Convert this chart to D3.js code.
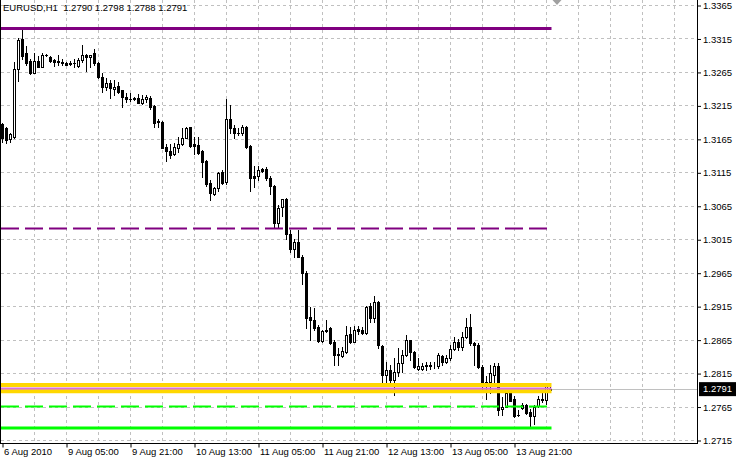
<!DOCTYPE html>
<html><head><meta charset="utf-8">
<script src="https://cdn.jsdelivr.net/npm/d3@7"></script>
<style>
html,body{margin:0;padding:0;background:#fff;}
svg{display:block;}
text{font-family:"Liberation Sans",Arial,sans-serif;font-size:9.5px;fill:#000;}
</style>
</head><body>
<svg id="chart" width="736" height="462"></svg>
<script>
const symbol = "EURUSD,H1";
const open = [1.3187,1.3181,1.3165,1.3168,1.3269,1.3314,1.3293,1.3282,1.3264,1.3282,
1.3273,1.3291,1.3288,1.3283,1.3280,1.3280,1.3279,1.3278,1.3278,1.3274,
1.3283,1.3291,1.3287,1.3293,1.3279,1.3258,1.3242,1.3249,1.3239,1.3244,
1.3238,1.3227,1.3225,1.3226,1.3226,1.3218,1.3225,1.3226,1.3214,1.3192,
1.3190,1.3153,1.3147,1.3142,1.3152,1.3157,1.3167,1.3182,1.3157,1.3156,
1.3147,1.3132,1.3099,1.3083,1.3091,1.3116,1.3100,1.3194,1.3181,1.3174,
1.3174,1.3183,1.3154,1.3110,1.3110,1.3120,1.3120,1.3107,1.3094,1.3040,
1.3063,1.3075,1.3023,1.3000,1.3011,1.2989,1.2965,1.2899,1.2895,1.2884,
1.2863,1.2880,1.2882,1.2862,1.2843,1.2840,1.2847,1.2873,1.2862,1.2881,
1.2879,1.2875,1.2915,1.2897,1.2921,1.2856,1.2812,1.2820,1.2804,1.2817,
1.2830,1.2842,1.2864,1.2846,1.2821,1.2821,1.2825,1.2827,1.2825,1.2826,
1.2840,1.2832,1.2837,1.2851,1.2862,1.2854,1.2869,1.2884,1.2860,1.2857,
1.2824,1.2799,1.2801,1.2812,1.2825,1.2761,1.2765,1.2785,1.2777,1.2752,
1.2763,1.2767,1.2757,1.2751,1.2766,1.2777,1.2775,1.2790];
const high = [1.3189,1.3183,1.3174,1.3280,1.3315,1.3328,1.3303,1.3284,1.3293,1.3289,
1.3293,1.3292,1.3289,1.3284,1.3290,1.3284,1.3280,1.3282,1.3284,1.3286,
1.3305,1.3292,1.3291,1.3299,1.3280,1.3264,1.3256,1.3253,1.3253,1.3250,
1.3238,1.3233,1.3233,1.3227,1.3232,1.3230,1.3230,1.3229,1.3216,1.3194,
1.3191,1.3158,1.3158,1.3159,1.3168,1.3181,1.3183,1.3183,1.3168,1.3168,
1.3149,1.3133,1.3103,1.3093,1.3116,1.3118,1.3224,1.3216,1.3186,1.3181,
1.3186,1.3184,1.3156,1.3124,1.3124,1.3122,1.3123,1.3109,1.3096,1.3066,
1.3075,1.3076,1.3029,1.3016,1.3029,1.2991,1.2967,1.2914,1.2912,1.2887,
1.2879,1.2894,1.2884,1.2864,1.2852,1.2854,1.2885,1.2884,1.2885,1.2885,
1.2884,1.2915,1.2920,1.2930,1.2922,1.2857,1.2832,1.2827,1.2837,1.2852,
1.2850,1.2872,1.2865,1.2848,1.2838,1.2830,1.2832,1.2832,1.2832,1.2845,
1.2842,1.2842,1.2857,1.2869,1.2866,1.2876,1.2897,1.2904,1.2862,1.2860,
1.2827,1.2810,1.2827,1.2830,1.2830,1.2780,1.2787,1.2787,1.2781,1.2760,
1.2770,1.2769,1.2762,1.2767,1.2781,1.2785,1.2796,1.2798];
const low = [1.3161,1.3159,1.3160,1.3166,1.3252,1.3284,1.3275,1.3262,1.3263,1.3272,
1.3272,1.3289,1.3280,1.3274,1.3275,1.3276,1.3275,1.3275,1.3273,1.3273,
1.3280,1.3267,1.3273,1.3275,1.3256,1.3235,1.3238,1.3226,1.3230,1.3233,
1.3213,1.3220,1.3222,1.3223,1.3218,1.3217,1.3220,1.3209,1.3183,1.3182,
1.3151,1.3132,1.3137,1.3141,1.3146,1.3156,1.3166,1.3153,1.3143,1.3143,
1.3108,1.3094,1.3073,1.3081,1.3087,1.3098,1.3098,1.3173,1.3167,1.3171,
1.3171,1.3151,1.3087,1.3093,1.3103,1.3116,1.3103,1.3083,1.3032,1.3034,
1.3049,1.3016,1.2996,1.2988,1.2988,1.2948,1.2883,1.2864,1.2879,1.2862,
1.2862,1.2877,1.2858,1.2827,1.2827,1.2839,1.2845,1.2860,1.2861,1.2874,
1.2874,1.2874,1.2891,1.2891,1.2852,1.2800,1.2801,1.2802,1.2782,1.2810,
1.2817,1.2841,1.2835,1.2822,1.2820,1.2820,1.2820,1.2821,1.2822,1.2823,
1.2827,1.2830,1.2835,1.2850,1.2850,1.2850,1.2867,1.2857,1.2827,1.2822,
1.2790,1.2776,1.2785,1.2795,1.2752,1.2752,1.2764,1.2773,1.2749,1.2751,
1.2761,1.2754,1.2736,1.2739,1.2764,1.2772,1.2769,1.2788];
const close = [1.3166,1.3163,1.3172,1.3269,1.3313,1.3289,1.3279,1.3264,1.3282,1.3273,
1.3291,1.3291,1.3282,1.3280,1.3281,1.3279,1.3276,1.3277,1.3278,1.3283,
1.3291,1.3288,1.3291,1.3278,1.3257,1.3242,1.3249,1.3241,1.3243,1.3235,
1.3227,1.3224,1.3225,1.3224,1.3218,1.3225,1.3227,1.3212,1.3189,1.3190,
1.3152,1.3147,1.3141,1.3153,1.3157,1.3167,1.3181,1.3154,1.3154,1.3144,
1.3131,1.3097,1.3084,1.3091,1.3114,1.3099,1.3194,1.3181,1.3173,1.3174,
1.3183,1.3153,1.3107,1.3107,1.3118,1.3117,1.3107,1.3094,1.3039,1.3061,
1.3075,1.3023,1.3001,1.3011,1.2989,1.2965,1.2898,1.2895,1.2882,1.2863,
1.2878,1.2878,1.2860,1.2842,1.2842,1.2848,1.2872,1.2861,1.2880,1.2878,
1.2875,1.2914,1.2897,1.2921,1.2857,1.2812,1.2820,1.2804,1.2817,1.2830,
1.2842,1.2864,1.2846,1.2824,1.2825,1.2825,1.2827,1.2825,1.2826,1.2842,
1.2832,1.2837,1.2851,1.2862,1.2854,1.2869,1.2884,1.2860,1.2857,1.2824,
1.2800,1.2802,1.2815,1.2825,1.2760,1.2765,1.2785,1.2774,1.2751,1.2752,
1.2768,1.2755,1.2751,1.2765,1.2777,1.2775,1.2795,1.2791];

const priceTicks = [1.3365,1.3315,1.3265,1.3215,1.3165,1.3115,1.3065,1.3015,1.2965,1.2915,1.2865,1.2815,1.2765,1.2715];
const timeLabels = ["6 Aug 2010","9 Aug 05:00","9 Aug 21:00","10 Aug 13:00","11 Aug 05:00","11 Aug 21:00","12 Aug 13:00","13 Aug 05:00","13 Aug 21:00"];
const timeLabelBars = [0,16,32,48,64,80,96,112,128];
const gridBars = [8,16,24,32,40,48,56,64,72,80,88,96,104,112,120,128,136,144,152,160,168];
// horizontal level objects: purple solid, purple dashed, yellow, yellow, orchid, green dashed, green solid
const levelValues = [1.3330, 1.3031, 1.2797, 1.2788, 1.2792, 1.2765, 1.2733];

const levelStyles = [
  {color:"#800080", width:3, dash:null},
  {color:"#800080", width:2, dash:"18,6"},
  {color:"#FFD700", width:4, dash:null},
  {color:"#FFD700", width:4, dash:null},
  {color:"#DA70D6", width:2, dash:null},
  {color:"#00FF00", width:2, dash:"18,6"},
  {color:"#00FF00", width:3, dash:null}
];

const svg = d3.select("#chart");
const plotRight = 697, plotBottom = 443;
const x = d3.scaleLinear().domain([0, 1]).range([2.5, 6.5]);
const y = d3.scaleLinear().domain([1.2715, 1.3365]).range([440, 5]);
const ry = v => Math.round(y(v));
const n = open.length;
const bars = d3.range(n).map(i => ({i, o:open[i], h:high[i], l:low[i], c:close[i]}));
const last = bars[n-1];

// grid
const grid = svg.append("g").attr("stroke", "#c0c0c0").attr("stroke-dasharray", "3,3").attr("stroke-width", 1);
grid.selectAll("line.h").data(priceTicks).join("line")
  .attr("x1", 1).attr("x2", plotRight)
  .attr("y1", d => ry(d) + 0.5).attr("y2", d => ry(d) + 0.5);
grid.selectAll("line.v").data(gridBars).join("line")
  .attr("x1", d => x(d)).attr("x2", d => x(d))
  .attr("y1", 0).attr("y2", plotBottom);

// bid line
svg.append("line").attr("x1", 1).attr("x2", plotRight)
  .attr("y1", ry(last.c) + 0.5).attr("y2", ry(last.c) + 0.5)
  .attr("stroke", "#c0c0c0");

// candles
const cg = svg.append("g");
cg.selectAll("line.wick").data(bars).join("line")
  .attr("x1", d => x(d.i)).attr("x2", d => x(d.i))
  .attr("y1", d => ry(d.h)).attr("y2", d => ry(d.l) + 1)
  .attr("stroke", "#000").attr("stroke-width", 1);
const bear = bars.filter(d => d.c < d.o), bull = bars.filter(d => d.c > d.o), doji = bars.filter(d => d.c === d.o);
cg.selectAll("rect.bear").data(bear).join("rect")
  .attr("x", d => x(d.i) - 1.5).attr("width", 3)
  .attr("y", d => ry(d.o)).attr("height", d => Math.max(1, ry(d.c) - ry(d.o) + 1))
  .attr("fill", "#000");
cg.selectAll("rect.bull").data(bull).join("rect")
  .attr("x", d => x(d.i) - 1).attr("width", 2)
  .attr("y", d => ry(d.c) + 0.5).attr("height", d => Math.max(0, ry(d.o) - ry(d.c)))
  .attr("fill", "#fff").attr("stroke", "#000").attr("stroke-width", 1);
cg.selectAll("line.doji").data(doji).join("line")
  .attr("x1", d => x(d.i) - 1.5).attr("x2", d => x(d.i) + 1.5)
  .attr("y1", d => ry(d.o) + 0.5).attr("y2", d => ry(d.o) + 0.5)
  .attr("stroke", "#000");

// level lines
const lx1 = 1, lx2 = x(n - 1) + 1;
svg.append("g").selectAll("line").data(levelValues).join("line")
  .attr("x1", lx1).attr("x2", lx2)
  .attr("y1", d => y(d)).attr("y2", d => y(d))
  .attr("stroke", (d, i) => levelStyles[i].color)
  .attr("stroke-width", (d, i) => levelStyles[i].width)
  .attr("stroke-dasharray", (d, i) => levelStyles[i].dash);

// chart shift marker
svg.append("path").attr("d", `M${x(n-1)+2},0 L${x(n-1)+11},0 L${x(n-1)+6.5},5 Z`).attr("fill", "#a0a0a0");

// frame
svg.append("line").attr("x1", 0.5).attr("x2", 0.5).attr("y1", 0).attr("y2", plotBottom + 1).attr("stroke", "#000");
svg.append("line").attr("x1", 0).attr("x2", plotRight + 1).attr("y1", plotBottom + 0.5).attr("y2", plotBottom + 0.5).attr("stroke", "#000");
svg.append("line").attr("x1", plotRight + 0.5).attr("x2", plotRight + 0.5).attr("y1", 0).attr("y2", plotBottom + 1).attr("stroke", "#000");

// price axis
const yAxis = d3.axisRight(y).tickValues(priceTicks).tickFormat(d3.format(".4f")).tickSize(3).tickPadding(2);
const ya = svg.append("g").attr("transform", `translate(${plotRight + 1},0.5)`).call(yAxis);
ya.select(".domain").remove();
ya.selectAll("text").attr("font-family", "Liberation Sans, Arial, sans-serif").attr("font-size", 9.5).attr("fill", "#000");
ya.selectAll("line").attr("stroke", "#000");

// bid label
const bidG = svg.append("g").attr("transform", `translate(${plotRight + 2},${y(last.c)})`);
bidG.append("rect").attr("x", 0).attr("y", -7).attr("width", 38).attr("height", 14).attr("fill", "#000");
bidG.append("text").attr("x", 4).attr("dy", "0.32em").style("fill", "#fff").text(d3.format(".4f")(last.c));

// time axis
const xAxis = d3.axisBottom(x).tickValues(timeLabelBars).tickFormat((d, i) => timeLabels[i]).tickSize(4).tickPadding(1);
const xa = svg.append("g").attr("transform", `translate(0,${plotBottom + 0.5})`).call(xAxis);
xa.select(".domain").remove();
xa.selectAll("text").attr("text-anchor", "start").attr("x", 1).attr("font-family", "Liberation Sans, Arial, sans-serif").attr("font-size", 9.5).attr("fill", "#000");
xa.selectAll("line").attr("stroke", "#000");

// title
const f4 = d3.format(".4f");
svg.append("text").attr("x", 3).attr("y", 11)
  .attr("xml:space", "preserve").style("white-space", "pre")
  .text(`${symbol}  ${f4(last.o)} ${f4(last.h)} ${f4(last.l)} ${f4(last.c)}`);
</script>
</body></html>
